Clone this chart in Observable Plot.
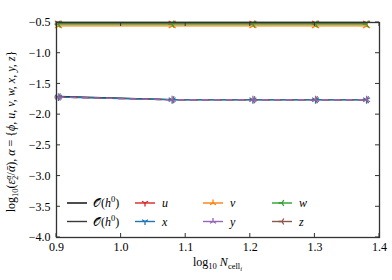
<!DOCTYPE html>
<html><head><meta charset="utf-8">
<script src="https://cdn.jsdelivr.net/npm/d3@7"></script>
<script src="https://cdn.jsdelivr.net/npm/@observablehq/plot@0.6"></script>
<style>body{margin:0;background:#fff}svg{display:block}svg text{font-family:'Liberation Serif','DejaVu Serif',serif !important}</style>
</head><body><div id="c"></div>
<script>
// log10 N_cell for N = 8, 12, 16, 20, 24
const logN = [0.903, 1.079, 1.204, 1.301, 1.380];
const refTop = [-0.500, -0.500, -0.500, -0.500, -0.500];
const refBot = [-1.705, -1.755, -1.755, -1.755, -1.755];
const seriesU = [-0.508, -0.508, -0.508, -0.508, -0.508];
const seriesV = [-0.555, -0.555, -0.555, -0.555, -0.555];
const seriesW = [-0.525, -0.525, -0.525, -0.525, -0.525];
const seriesX = [-1.712, -1.757, -1.757, -1.757, -1.757];
const seriesY = [-1.715, -1.758, -1.758, -1.758, -1.758];
const seriesZ = [-1.713, -1.757, -1.757, -1.757, -1.757];
const xTicks = [0.9, 1.0, 1.1, 1.2, 1.3, 1.4];
const yTicks = [-0.5, -1.0, -1.5, -2.0, -2.5, -3.0, -3.5, -4.0];

const triDown = {draw(c, s){const r=Math.sqrt(s/Math.PI);c.moveTo(0,0);c.lineTo(0,r);c.moveTo(0,0);c.lineTo(-r*0.87,-r*0.5);c.moveTo(0,0);c.lineTo(r*0.87,-r*0.5);}};
const triUp = {draw(c, s){const r=Math.sqrt(s/Math.PI);c.moveTo(0,0);c.lineTo(0,-r);c.moveTo(0,0);c.lineTo(-r*0.87,r*0.5);c.moveTo(0,0);c.lineTo(r*0.87,r*0.5);}};
const triLeft = {draw(c, s){const r=Math.sqrt(s/Math.PI);c.moveTo(0,0);c.lineTo(-r,0);c.moveTo(0,0);c.lineTo(r*0.5,-r*0.87);c.moveTo(0,0);c.lineTo(r*0.5,r*0.87);}};

const series = [
  {name:"u", vals:seriesU, color:"#d62728", sym:triDown, dash:null},
  {name:"v", vals:seriesV, color:"#ff7f0e", sym:triUp, dash:null},
  {name:"w", vals:seriesW, color:"#2ca02c", sym:triLeft, dash:null},
  {name:"x", vals:seriesX, color:"#1f77b4", sym:triDown, dash:null},
  {name:"z", vals:seriesZ, color:"#8c564b", sym:triLeft, dash:"7,5"},
  {name:"y", vals:seriesY, color:"#9467bd", sym:triUp, dash:"5,7"}
];
const refs = [
  {vals:refTop, color:"#000"},
  {vals:refBot, color:"#111"}
];
const rows = s => logN.map((x,i)=>({x, y:s.vals[i]}));

const ff = "'Liberation Serif','DejaVu Serif',serif";
const marks = [];
refs.forEach(r => marks.push(Plot.line(rows(r), {x:"x", y:"y", stroke:r.color, strokeWidth:1.3})));
series.forEach(s => {
  marks.push(Plot.line(rows(s), {x:"x", y:"y", stroke:s.color, strokeWidth:1.4, strokeDasharray:s.dash}));
});
series.forEach(s => {
  marks.push(Plot.dot(rows(s), {x:"x", y:"y", stroke:s.color, symbol:s.sym, r:4, strokeWidth:1.3}));
});
marks.push(Plot.frame({stroke:"#333", strokeWidth:1.3}));
marks.push(Plot.axisX({ticks:xTicks, tickSize:0, tickPadding:5, tickFormat:d3.format(".1f"), label:null, fontSize:12}));
marks.push(Plot.axisY({ticks:yTicks, tickSize:0, tickPadding:6, tickFormat:d3.format(".1f"), label:null, fontSize:12}));

const chart = Plot.plot({
  width:392, height:280,
  marginLeft:56, marginRight:13, marginTop:22, marginBottom:43,
  x:{domain:[0.9,1.4]}, y:{domain:[-4,-0.5]},
  style:{fontFamily:ff, fontSize:"12px", background:"#fff", color:"#000"},
  marks
});
document.getElementById("c").appendChild(chart);

const svg = d3.select(chart);
const sx = chart.scale("x"), sy = chart.scale("y");
const L=56, R=392-13, T=22, B=280-43, tk=4;
const g = svg.append("g").attr("stroke","#333").attr("stroke-width",1);
xTicks.forEach(v=>{const px=sx.apply(v);
  g.append("line").attr("x1",px).attr("x2",px).attr("y1",B).attr("y2",B-tk);
  g.append("line").attr("x1",px).attr("x2",px).attr("y1",T).attr("y2",T+tk);});
yTicks.forEach(v=>{const py=sy.apply(v);
  g.append("line").attr("x1",L).attr("x2",L+tk).attr("y1",py).attr("y2",py);
  g.append("line").attr("x1",R).attr("x2",R-tk).attr("y1",py).attr("y2",py);});

// axis labels
const xl = svg.append("text").attr("x",(L+R)/2).attr("y",266).attr("text-anchor","middle")
  .attr("font-family",ff).attr("font-size",12);
xl.append("tspan").text("log");
xl.append("tspan").attr("font-size",8.5).attr("dy",3).text("10");
xl.append("tspan").attr("dy",-3).attr("font-style","italic").text(" N");
xl.append("tspan").attr("font-size",8.5).attr("dy",3).text("cell");
xl.append("tspan").attr("font-size",6.5).attr("dy",2).attr("font-style","italic").text("i");

const yl = svg.append("text").attr("transform",`translate(15,${(T+B)/2+2}) rotate(-90)`)
  .attr("text-anchor","middle").attr("font-family",ff).attr("font-size",12);
yl.append("tspan").text("log");
yl.append("tspan").attr("font-size",8.5).attr("dy",3).text("10");
yl.append("tspan").attr("dy",-3).text("(");
yl.append("tspan").attr("font-style","italic").text("ε");
yl.append("tspan").attr("font-size",8).attr("dy",3).text("2");
yl.append("tspan").attr("font-size",8).attr("font-style","italic").attr("dy",-7).attr("dx",-4).text("α");
yl.append("tspan").attr("dy",4).text("/");
yl.append("tspan").attr("font-style","italic").text("ᾱ");
yl.append("tspan").text("), ");
yl.append("tspan").attr("font-style","italic").text("α");
yl.append("tspan").text(" = {");
yl.append("tspan").attr("font-style","italic").text("ϕ, u, v, w, x, y, z");
yl.append("tspan").text("}");

// legend
const lg = svg.append("g").attr("font-family",ff).attr("font-size",12).attr("text-anchor","start");
const rowY = [203, 221.5];
const colX = [67, 135, 203, 272];
const legendItems = [
  {col:0,row:0,color:"#000"},
  {col:0,row:1,color:"#3a3a3a"},
  {col:1,row:0,s:series[0]},{col:1,row:1,s:series[3]},
  {col:2,row:0,s:series[1]},{col:2,row:1,s:series[5]},
  {col:3,row:0,s:series[2]},{col:3,row:1,s:series[4]}
];
legendItems.forEach(it=>{
  const x0=colX[it.col], y0=rowY[it.row], color=it.s?it.s.color:it.color;
  lg.append("line").attr("x1",x0).attr("x2",x0+20).attr("y1",y0).attr("y2",y0).attr("stroke",color).attr("stroke-width",1.4);
  if(it.s){
    lg.append("path").attr("d",d3.symbol(it.s.sym, 12*Math.PI)()).attr("transform",`translate(${x0+10},${y0})`)
      .attr("stroke",color).attr("fill","none").attr("stroke-width",1.3);
    lg.append("text").attr("x",x0+27).attr("y",y0+4).attr("font-style","italic").text(it.s.name);
  } else {
    const t=lg.append("text").attr("x",x0+26).attr("y",y0+4);
    t.append("tspan").text("𝒪");
    t.append("tspan").text("(");
    t.append("tspan").attr("font-style","italic").text("h");
    t.append("tspan").attr("font-size",8.5).attr("dy",-5).text("0");
    t.append("tspan").attr("dy",5).text(")");
  }
});
</script></body></html>
